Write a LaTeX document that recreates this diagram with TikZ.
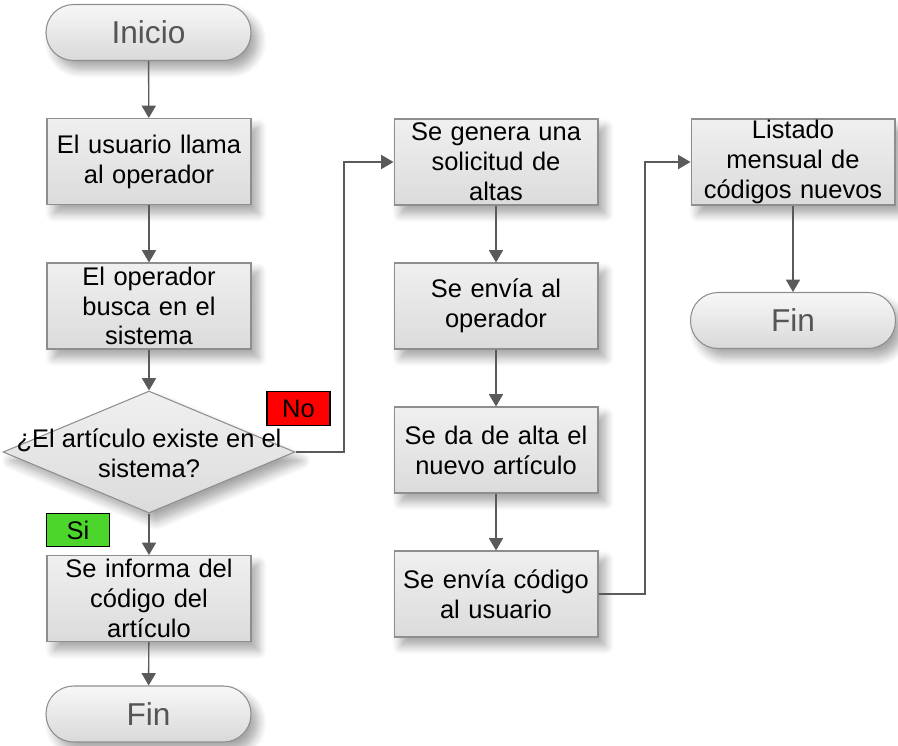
\documentclass[tikz,border=0pt]{standalone}
\usepackage{fontspec}
\setmainfont{Liberation Sans}
\usetikzlibrary{shapes.geometric,arrows.meta,shadows.blur}
\definecolor{lineg}{HTML}{5A5A5A}
\definecolor{bordg}{HTML}{8E8E8E}
\definecolor{txtg}{HTML}{555555}
\definecolor{sigreen}{HTML}{4CD62C}
\begin{document}
\begin{tikzpicture}[x=0.02cm,y=-0.02cm,
  every node/.style={font=\fontsize{14.5pt}{17pt}\selectfont},
  procbox/.style={draw=bordg, line width=0.6pt, top color=gray!12, bottom color=gray!28,
    minimum width=4.08cm, minimum height=1.72cm, inner sep=0pt, text width=3.9cm, align=center,
    blur shadow={shadow xshift=4pt, shadow yshift=-5pt, shadow blur steps=8, shadow blur radius=5pt, shadow opacity=35}},
  term/.style={draw=bordg, line width=0.6pt, rounded corners=0.55cm, top color=gray!6, bottom color=gray!30,
    minimum width=4.1cm, minimum height=1.12cm, inner sep=0pt, text=txtg,
    font=\fontsize{18pt}{20pt}\selectfont,
    blur shadow={shadow xshift=4pt, shadow yshift=-5pt, shadow blur steps=8, shadow blur radius=5pt, shadow opacity=35}},
  decision/.style={draw=bordg, line width=0.6pt, shape=diamond, top color=gray!12, bottom color=gray!28,
    minimum width=5.84cm, minimum height=2.44cm, inner sep=0pt,
    blur shadow={shadow xshift=4pt, shadow yshift=-5pt, shadow blur steps=8, shadow blur radius=5pt, shadow opacity=35}},
  tag/.style={draw=black, line width=0.6pt, minimum width=1.26cm, minimum height=0.67cm, inner sep=0pt},
  conn/.style={draw=lineg, line width=0.8pt, -{Triangle[width=8pt,length=7pt]}}
]
\useasboundingbox (0,0) rectangle (898,745);
% column 1
\node[term] (ini) at (148.5,32.5) {Inicio};
\node[procbox] (b1) at (149,161.5) {El usuario llama\\al operador};
\node[procbox] (b2) at (149,306) {\raisebox{6pt}{\parbox{3.9cm}{\centering El operador\\busca en el\\sistema}}};
\node[decision] (d) at (149,452) {};
\node[align=center] (dt) at (149,453) {¿El artículo existe en el\\sistema?};
\node[tag, fill=red] (no) at (298.5,408.5) {No};
\node[tag, fill=sigreen] (si) at (78,530) {Si};
\node[procbox] (b3) at (149,598.5) {Se informa del\\código del\\artículo};
\node[term] (fin1) at (148.5,714) {Fin};
% column 2
\node[procbox] (c1) at (496,162) {\raisebox{6pt}{\parbox{3.9cm}{\centering Se genera una\\solicitud de\\altas}}};
\node[procbox] (c2) at (496,306) {Se envía al\\operador};
\node[procbox] (c3) at (496,450) {Se da de alta el\\nuevo artículo};
\node[procbox] (c4) at (496,594) {Se envía código\\al usuario};
% column 3
\node[procbox] (e1) at (793,162) {\raisebox{6pt}{\parbox{3.9cm}{\centering Listado\\mensual de\\códigos nuevos}}};
\node[term] (fin2) at (793,320.5) {Fin};
% connectors
\draw[conn] (ini) -- (b1);
\draw[conn] (b1) -- (b2);
\draw[conn] (b2) -- (d);
\draw[conn] (d) -- (b3);
\draw[conn] (b3) -- (fin1);
\draw[conn] (d.east) -- (344,452) |- (c1.west);
\draw[conn] (c1) -- (c2);
\draw[conn] (c2) -- (c3);
\draw[conn] (c3) -- (c4);
\draw[conn] (c4.east) -- (645,594) |- (e1.west);
\draw[conn] (e1) -- (fin2);
\end{tikzpicture}
\end{document}
